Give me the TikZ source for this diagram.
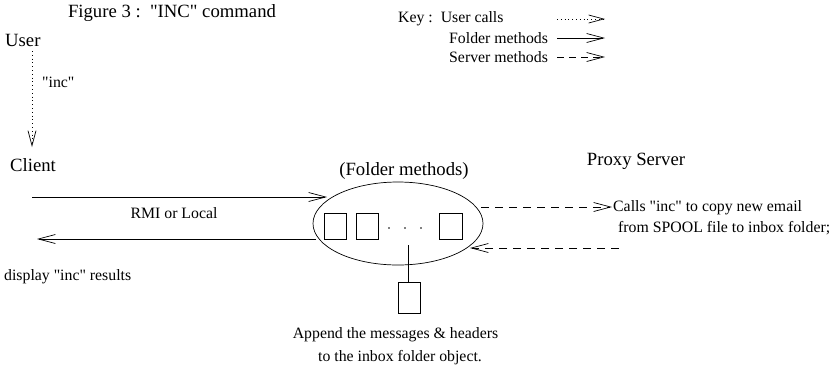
\documentclass[tikz,border=0pt]{standalone}
\usepackage{fontspec}
\setmainfont{Liberation Serif}
\usetikzlibrary{arrows.meta, shapes.geometric}

\tikzset{
  big/.style={font=\fontsize{18.7}{22}\selectfont, inner sep=0pt},
  small/.style={font=\fontsize{15.8}{19}\selectfont, inner sep=0pt},
  usercall/.style={line width=0.7pt, dash pattern=on 0.8pt off 3pt, -{Straight Barb[length=15pt,width=8pt]}},
  foldercall/.style={line width=0.7pt, -{Straight Barb[length=17pt,width=9pt]}},
  servercall/.style={line width=0.7pt, dash pattern=on 8pt off 6pt, -{Straight Barb[length=17pt,width=9pt]}},
  msgbox/.style={draw, line width=0.7pt, minimum width=22pt, minimum height=26pt, inner sep=0pt}
}
\newcommand\qt[1]{\textquotedbl#1\textquotedbl}

\begin{document}
\begin{tikzpicture}[x=1pt,y=-1pt]
\useasboundingbox (0,0) rectangle (829,368);
% title and key
\node[big] (title) at (172,13) {Figure 3 :\ \ \qt{INC} command};
\node[small, anchor=west] (keyuser) at (398,19) {Key :\ \ User calls};
\node[small, anchor=west] (keyfolder) at (449,38) {Folder methods};
\node[small, anchor=west] (keyserver) at (449,57) {Server methods};
\coordinate (ku1) at (557,19);
\coordinate (ku2) at (605,19);
\coordinate (kf1) at (557,38);
\coordinate (kf2) at (605,38);
\coordinate (ks1) at (557,57);
\coordinate (ks2) at (605,57);
\draw[usercall] (ku1) -- (ku2);
\draw[foldercall] (kf1) -- (kf2);
\draw[servercall, dash pattern=on 7pt off 5pt] (ks1) -- (ks2);
% user and client
\node[big, anchor=west] (user) at (5,40) {User};
\node[big, anchor=west] (client) at (10,165) {Client};
\node[small, anchor=west] (inc) at (42,82) {\qt{inc}};
\coordinate (u1) at (32,51);
\coordinate (u2) at (32,147);
\draw[usercall] (u1) -- (u2);
% folder object
\node[draw, ellipse, line width=0.7pt, minimum width=170pt, minimum height=83pt] (folder) at (398,223.5) {};
\node[big] (foldertitle) at (404,171) {(Folder methods)};
\node[msgbox] (box1) at (335,226) {};
\node[msgbox] (box2) at (367,226) {};
\node[msgbox, minimum width=23pt] (box3) at (450.5,226) {};
\foreach \x in {389,405,421}
  \fill (\x,228) circle (0.9pt);
\node[msgbox, minimum height=31pt] (newbox) at (409,297.5) {};
\coordinate (stem) at (408,245);
\draw[line width=0.7pt] (stem) -- (stem |- newbox.north);
% client calls
\coordinate (rmi1) at (32,197);
\coordinate (rmi2) at (327,197);
\coordinate (res1) at (316,239);
\coordinate (res2) at (37,239);
\draw[foldercall] (rmi1) -- (rmi2);
\draw[foldercall] (res1) -- (res2);
\node[small] (rmi) at (174,213) {RMI or Local};
\node[small, anchor=west] (display) at (4,277) {display \qt{inc} results};
% proxy server
\node[big] (proxy) at (636,161) {Proxy Server};
\coordinate (sv1) at (481,207);
\coordinate (sv2) at (612,207);
\coordinate (sv3) at (619,248);
\coordinate (sv4) at (470,248);
\draw[servercall] (sv1) -- (sv2);
\draw[servercall] (sv3) -- (sv4);
\node[small, anchor=west] (calls) at (613,208) {Calls \qt{inc} to copy new email};
\node[small, anchor=west] (spool) at (618,228) {from SPOOL file to inbox folder;};
% append text
\node[small] (append) at (395.5,335) {Append the messages \& headers};
\node[small] (inbox) at (400,358) {to the inbox folder object.};
\end{tikzpicture}
\end{document}
